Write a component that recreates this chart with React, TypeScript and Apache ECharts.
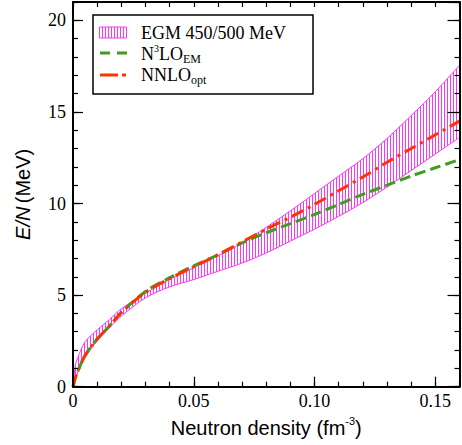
import React, { useEffect, useRef } from "react";
import * as echarts from "echarts";

const density = [0, 0.001, 0.002, 0.005, 0.01, 0.015, 0.02, 0.03, 0.04, 0.05, 0.06, 0.07, 0.08, 0.09, 0.1, 0.11, 0.12, 0.13, 0.14, 0.15, 0.16];
const egmUpper = [0, 1.2, 1.6, 2.45, 3.1, 3.65, 4.25, 5.1, 5.85, 6.5, 7.15, 7.85, 8.7, 9.6, 10.55, 11.5, 12.45, 13.55, 14.8, 16.1, 17.55];
const egmLower = [0, 0.45, 0.8, 1.6, 2.5, 3.2, 3.85, 4.85, 5.45, 5.85, 6.3, 6.75, 7.3, 7.95, 8.6, 9.3, 10.05, 10.9, 11.8, 12.7, 13.6];
const n3lo = [0, 0.5, 0.85, 1.7, 2.6, 3.3, 4.05, 5.2, 5.95, 6.6, 7.2, 7.85, 8.4, 8.9, 9.4, 9.95, 10.5, 11.0, 11.5, 11.95, 12.4];
const nnlo = [0, 0.5, 0.85, 1.7, 2.6, 3.3, 4.05, 5.15, 5.9, 6.55, 7.2, 7.9, 8.6, 9.25, 9.95, 10.7, 11.45, 12.25, 13.0, 13.75, 14.5];

const xTickLabels = ["0", "0.05", "0.10", "0.15"];
const yTickLabels = ["0", "5", "10", "15", "20"];

const PINK = "#ff33ff";
const GREEN = "#3f9e1e";
const RED = "#ff3300";
const SERIF = "Liberation Serif";
const SANS = "Liberation Sans";

export default function App() {
  const ref = useRef<HTMLDivElement>(null);
  useEffect(() => {
    if (!ref.current) return;
    const chart = echarts.init(ref.current, undefined, { renderer: "svg" });

    const cv = document.createElement("canvas");
    cv.width = 3;
    cv.height = 3;
    const ctx = cv.getContext("2d")!;
    ctx.fillStyle = "rgba(255,0,255,0.8)";
    ctx.fillRect(0, 0, 1, 3);
    const hatch: any = { image: cv.toDataURL(), repeat: "repeat", imageWidth: 3, imageHeight: 3 };

    const gridRect = { left: 73, right: 2.5, top: 2, bottom: 58.3, containLabel: false, outerBoundsMode: "none" };
    const xFmt = (v: number) => {
      const i = Math.round(v / 0.05);
      return Math.abs(v - i * 0.05) < 1e-9 && i < xTickLabels.length ? xTickLabels[i] : "";
    };
    const yFmt = (v: number) => {
      const i = Math.round(v / 5);
      return Math.abs(v - i * 5) < 1e-9 && i < yTickLabels.length ? yTickLabels[i] : "";
    };
    const line2 = { show: true, onZero: false, lineStyle: { color: "#000", width: 2 } };
    const noLine = { show: false, onZero: false };
    const minorTick = { inside: true, length: 5, lineStyle: { color: "#000", width: 1.2 } };

    chart.setOption({
      animation: false,
      grid: [{ ...gridRect }, { ...gridRect }],
      xAxis: [
        {
          gridIndex: 0, type: "value", position: "bottom", min: 0, max: 0.16, interval: 0.05, z: 5,
          axisLine: line2,
          axisTick: { inside: true, length: 10, lineStyle: { color: "#000", width: 1.2 } },
          axisLabel: { formatter: xFmt, fontFamily: SERIF, fontSize: 18, color: "#000", margin: 5, showMaxLabel: false },
          splitLine: { show: false },
          name: "{a|Neutron density (fm}{s|-3}{a|)}",
          nameLocation: "middle",
          nameGap: 29,
          nameTextStyle: {
            rich: {
              a: { fontFamily: SANS, fontSize: 20, color: "#000", lineHeight: 24 },
              s: { fontFamily: SANS, fontSize: 11, color: "#000", lineHeight: 17, verticalAlign: "top" },
            },
          },
        },
        {
          gridIndex: 0, type: "value", position: "top", min: 0, max: 0.16, interval: 0.05, z: 5,
          axisLine: line2, axisTick: { show: false }, axisLabel: { show: false }, splitLine: { show: false },
        },
        {
          gridIndex: 1, type: "value", position: "bottom", min: 0, max: 0.16, interval: 0.01, z: 5,
          axisLine: noLine, axisTick: minorTick, axisLabel: { show: false }, splitLine: { show: false },
        },
        {
          gridIndex: 1, type: "value", position: "top", min: 0, max: 0.16, interval: 0.01, z: 5,
          axisLine: noLine, axisTick: minorTick, axisLabel: { show: false }, splitLine: { show: false },
        },
      ],
      yAxis: [
        {
          gridIndex: 0, type: "value", position: "left", min: 0, max: 21, interval: 5, z: 5,
          axisLine: line2,
          axisTick: { inside: true, length: 10, lineStyle: { color: "#000", width: 1.2 } },
          axisLabel: { formatter: yFmt, fontFamily: SERIF, fontSize: 18, color: "#000", margin: 7, showMaxLabel: false },
          splitLine: { show: false },
          name: "{i|E/N} {a|(MeV)}",
          nameLocation: "middle",
          nameGap: 40,
          nameTextStyle: {
            rich: {
              i: { fontFamily: SANS, fontSize: 20, fontStyle: "italic", color: "#000" },
              a: { fontFamily: SANS, fontSize: 20, color: "#000" },
            },
          },
        },
        {
          gridIndex: 0, type: "value", position: "right", min: 0, max: 21, interval: 5, z: 5,
          axisLine: line2,
          axisTick: { inside: true, length: 12, lineStyle: { color: "#000", width: 1.2 } },
          axisLabel: { show: false }, splitLine: { show: false },
        },
        {
          gridIndex: 1, type: "value", position: "left", min: 0, max: 21, interval: 1, z: 5,
          axisLine: noLine, axisTick: minorTick, axisLabel: { show: false }, splitLine: { show: false },
        },
        {
          gridIndex: 1, type: "value", position: "right", min: 0, max: 21, interval: 1, z: 5,
          axisLine: noLine, axisTick: minorTick, axisLabel: { show: false }, splitLine: { show: false },
        },
      ],
      series: [
        {
          name: "EGM lower",
          type: "line",
          xAxisIndex: 0, yAxisIndex: 0,
          stack: "egm",
          smooth: 0.3,
          symbol: "none",
          encode: { x: 1, y: 0 },
          lineStyle: { color: PINK, width: 1 },
          data: density.map((d, i) => [egmLower[i], d]),
          z: 2,
        },
        {
          name: "EGM 450/500 MeV",
          type: "line",
          xAxisIndex: 0, yAxisIndex: 0,
          stack: "egm",
          smooth: 0.3,
          symbol: "none",
          encode: { x: 1, y: 0 },
          lineStyle: { color: PINK, width: 1 },
          areaStyle: { color: hatch, opacity: 1 },
          data: density.map((d, i) => [egmUpper[i] - egmLower[i], d]),
          z: 2,
        },
        {
          name: "N3LO_EM",
          type: "line",
          xAxisIndex: 0, yAxisIndex: 0,
          smooth: 0.3,
          symbol: "none",
          lineStyle: { color: GREEN, width: 3, type: [11, 5] },
          data: density.map((d, i) => [d, n3lo[i]]),
          z: 3,
        },
        {
          name: "NNLO_opt",
          type: "line",
          xAxisIndex: 0, yAxisIndex: 0,
          smooth: 0.3,
          symbol: "none",
          lineStyle: { color: RED, width: 3, type: [13, 5, 3, 5] },
          data: density.map((d, i) => [d, nnlo[i]]),
          z: 4,
        },
      ],
      graphic: [
        {
          type: "rect",
          z: 100,
          shape: { x: 93, y: 15, width: 220, height: 79 },
          style: { fill: "#fff", stroke: "#000", lineWidth: 1.5 },
        },
        {
          type: "rect",
          z: 101,
          shape: { x: 99.5, y: 27, width: 27, height: 11 },
          style: { fill: hatch, stroke: PINK, lineWidth: 1 },
        },
        {
          type: "text",
          z: 101,
          x: 141,
          y: 32.5,
          style: { text: "EGM 450/500 MeV", fontFamily: SERIF, fontSize: 18, fill: "#000", verticalAlign: "middle" },
        },
        {
          type: "line",
          z: 101,
          shape: { x1: 100, y1: 53, x2: 127, y2: 53 },
          style: { stroke: GREEN, lineWidth: 3, lineDash: [10, 7] },
        },
        {
          type: "text",
          z: 101,
          x: 141,
          y: 54,
          style: {
            text: "{n|N}{p|3}{n|LO}{b|EM}",
            verticalAlign: "middle",
            rich: {
              n: { fontFamily: SERIF, fontSize: 18, fill: "#000", lineHeight: 22 },
              p: { fontFamily: SERIF, fontSize: 10, fill: "#000", lineHeight: 17, verticalAlign: "top" },
              b: { fontFamily: SERIF, fontSize: 12, fill: "#000", lineHeight: 15, verticalAlign: "bottom" },
            },
          },
        },
        {
          type: "line",
          z: 101,
          shape: { x1: 100, y1: 75, x2: 127, y2: 75 },
          style: { stroke: RED, lineWidth: 3, lineDash: [18, 4, 4, 4] },
        },
        {
          type: "text",
          z: 101,
          x: 141,
          y: 75,
          style: {
            text: "{n|NNLO}{b|opt}",
            verticalAlign: "middle",
            rich: {
              n: { fontFamily: SERIF, fontSize: 18, fill: "#000", lineHeight: 22 },
              b: { fontFamily: SERIF, fontSize: 12, fill: "#000", lineHeight: 14, verticalAlign: "bottom" },
            },
          },
        },
      ],
    });
    return () => chart.dispose();
  }, []);
  return <div ref={ref} style={{ width: 462, height: 445, position: "absolute", left: 0, top: 0 }} />;
}
